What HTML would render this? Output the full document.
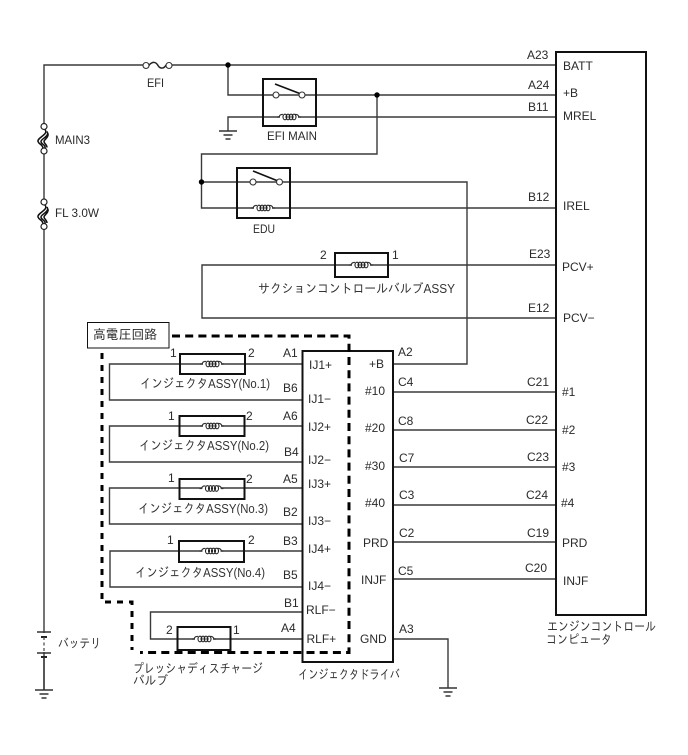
<!DOCTYPE html>
<html><head><meta charset="utf-8"><style>
html,body{margin:0;padding:0;background:#fff}
svg{display:block}
text{font-family:"Liberation Sans","IPAGothic","Noto Sans CJK JP",sans-serif;font-size:12px;fill:#2a2a2a}
text.k{font-size:13px;font-family:"Liberation Sans","IPAGothic","WenQuanYi Zen Hei",sans-serif;fill:#333}
.w{fill:none;stroke:#3a3a3a;stroke-width:1.4}
.b{fill:none;stroke:#111;stroke-width:2}
.d{fill:none;stroke:#000;stroke-width:3}
</style></head><body>
<svg width="688" height="755" viewBox="0 0 688 755" xmlns="http://www.w3.org/2000/svg">
<defs>
<g id="coil"><rect x="-9" y="-3" width="18" height="6" fill="#fff"/><path d="M-12,0 H-10 Q-9,-3 -6,-2.5 M6,-2.5 Q9,-3 10,0 H12" fill="none" stroke="#333" stroke-width="1.2"/><ellipse cx="-4" cy="0" rx="2" ry="2.8" fill="none" stroke="#222" stroke-width="1.1"/><ellipse cx="-1" cy="0" rx="2" ry="2.8" fill="none" stroke="#222" stroke-width="1.1"/><ellipse cx="2" cy="0" rx="2" ry="2.8" fill="none" stroke="#222" stroke-width="1.1"/><ellipse cx="5" cy="0" rx="2" ry="2.8" fill="none" stroke="#222" stroke-width="1.1"/></g>
<g id="gnd"><path d="M-9,0 H9 M-4.5,4 H4.5 M-2.5,8 H2.5" fill="none" stroke="#333" stroke-width="1.4"/></g>
<g id="vf"><rect x="-2" y="3" width="4" height="18" fill="#fff"/><path d="M1,3 C5,8 -7,11 -6,15 C-5,18 -1,18 -1,22 M3,5 C6,10 -3,12 -3,15 C-3,18 2,18 1,22 M4,7 C5,11 0,13 0,15 C0,17 3,18 3,21" fill="none" stroke="#111" stroke-width="1.5"/><circle cx="0" cy="0" r="3" fill="#fff" stroke="#222" stroke-width="1.2"/><circle cx="0" cy="24.5" r="3" fill="#fff" stroke="#222" stroke-width="1.2"/></g>
</defs>

<!-- wires -->
<path class="w" d="M44,690 V65 H556"/>
<path class="w" d="M228,65 V95 H556"/>
<path class="w" d="M228,131 V117 H556"/>
<path class="w" d="M377,95 V154 H201.5 V208 H556"/>
<path class="w" d="M201.5,182 H467 V364 H393"/>
<path class="w" d="M556,265 H202 V318 H556"/>
<path class="w" d="M302,364 H109.500 V400 H302"/>
<path class="w" d="M302,426 H109.500 V462 H302"/>
<path class="w" d="M302,488 H109.500 V524 H302"/>
<path class="w" d="M302,551 H110 V587 H302"/>
<path class="w" d="M302,612 H150.500 V639 H302"/>
<path class="w" d="M393,392 H556 M393,430 H556 M393,467 H556 M393,505 H556 M393,542 H556 M393,579 H556"/>
<path class="w" d="M393,639 H448 V688"/>

<circle cx="228" cy="65" r="2.7" fill="#000"/>
<circle cx="377" cy="95" r="2.7" fill="#000"/>
<circle cx="201.500" cy="182" r="2.7" fill="#000"/>

<!-- battery gap -->
<rect x="40" y="633" width="8" height="19" fill="#fff"/>
<path d="M37,632 H51 M37,653 H51" fill="none" stroke="#333" stroke-width="1.4"/>
<path d="M41,637 H47 M41,657 H47" fill="none" stroke="#222" stroke-width="2"/>
<path d="M44,637 V652" fill="none" stroke="#444" stroke-width="1.2" stroke-dasharray="3,2.500"/>
<path d="M44,657 V690" fill="none" stroke="#333" stroke-width="1.4"/>
<use href="#gnd" x="44" y="690"/>
<use href="#gnd" x="228" y="131"/>
<use href="#gnd" x="448" y="688"/>

<!-- fuses -->
<rect x="150" y="62" width="16" height="7" fill="#fff"/>
<path d="M149,65 C153,61 156,62 158,65.500 C160,69 164,69 166,65" fill="none" stroke="#222" stroke-width="1.500"/>
<circle cx="146" cy="65.500" r="3" fill="#fff" stroke="#333" stroke-width="1.1"/>
<circle cx="169" cy="65.500" r="3" fill="#fff" stroke="#333" stroke-width="1.1"/>
<use href="#vf" x="44" y="126.500"/>
<use href="#vf" x="44" y="202"/>

<!-- relays -->
<rect x="263" y="79" width="53" height="47" fill="none" stroke="#111" stroke-width="2"/>
<path d="M275,84 L301,94" stroke="#111" stroke-width="1.6" fill="none"/>
<circle cx="276" cy="95" r="3" fill="#fff" stroke="#333" stroke-width="1.1"/>
<circle cx="302" cy="95" r="3" fill="#fff" stroke="#333" stroke-width="1.1"/>
<use href="#coil" x="289" y="117"/>

<rect x="237" y="168" width="53" height="50" fill="none" stroke="#111" stroke-width="2"/>
<path d="M253,171 L278,181" stroke="#111" stroke-width="1.6" fill="none"/>
<circle cx="253" cy="182" r="3" fill="#fff" stroke="#333" stroke-width="1.1"/>
<circle cx="279.500" cy="182" r="3" fill="#fff" stroke="#333" stroke-width="1.1"/>
<use href="#coil" x="263" y="208"/>

<!-- solenoid boxes -->
<rect x="335" y="253" width="53" height="24" class="b"/><use href="#coil" x="361" y="265"/>
<rect x="180" y="354" width="65" height="20" class="b"/><use href="#coil" x="212" y="364"/>
<rect x="179.500" y="416" width="65" height="20" class="b"/><use href="#coil" x="212" y="426"/>
<rect x="179.500" y="479" width="65" height="20" class="b"/><use href="#coil" x="211.500" y="488.500"/>
<rect x="179" y="541" width="65" height="21" class="b"/><use href="#coil" x="211.500" y="551"/>
<rect x="177.500" y="627" width="53" height="23" class="b"/><use href="#coil" x="204" y="639"/>

<!-- blocks -->
<rect x="556" y="52" width="90" height="563" class="b"/>
<rect x="302.500" y="351" width="90.500" height="311" class="b"/>

<!-- dashed -->
<path class="d" d="M172,336 H349 V652.500 H140" stroke-dasharray="8,5.200"/>
<path class="d" d="M102,353 V602 H132 V650" stroke-dasharray="6,6"/>

<rect x="87.500" y="322.500" width="81.500" height="25.500" fill="#fff" stroke="#111" stroke-width="1"/>
<text x="93" y="339" style="font-size:13px" textLength="64" lengthAdjust="spacingAndGlyphs">高電圧回路</text>

<!-- labels -->
<text x="147" y="87" textLength="17" lengthAdjust="spacingAndGlyphs">EFI</text>
<text x="267" y="140" textLength="50" lengthAdjust="spacingAndGlyphs">EFI MAIN</text>
<text x="253" y="233" textLength="22" lengthAdjust="spacingAndGlyphs">EDU</text>
<text x="55" y="144" textLength="35" lengthAdjust="spacingAndGlyphs">MAIN3</text>
<text x="55" y="217" textLength="44" lengthAdjust="spacingAndGlyphs">FL 3.0W</text>
<text class="k" x="58" y="648" textLength="43" lengthAdjust="spacingAndGlyphs">バッテリ</text>

<text x="320" y="259">2</text>
<text x="392" y="259">1</text>
<text class="k" x="258" y="293" textLength="197" lengthAdjust="spacingAndGlyphs">サクションコントロールバルブASSY</text>

<text x="170" y="357">1</text><text x="248" y="357">2</text>
<text x="168" y="420">1</text><text x="246" y="420">2</text>
<text x="168" y="482">1</text><text x="246" y="483">2</text>
<text x="167" y="544">1</text><text x="248" y="544">2</text>
<text x="166" y="634">2</text><text x="233" y="634">1</text>

<text class="k" x="140" y="388" textLength="130" lengthAdjust="spacingAndGlyphs">インジェクタASSY(No.1)</text>
<text class="k" x="139" y="450" textLength="130" lengthAdjust="spacingAndGlyphs">インジェクタASSY(No.2)</text>
<text class="k" x="138" y="513" textLength="130" lengthAdjust="spacingAndGlyphs">インジェクタASSY(No.3)</text>
<text class="k" x="135" y="577" textLength="130" lengthAdjust="spacingAndGlyphs">インジェクタASSY(No.4)</text>
<text class="k" x="133" y="673" textLength="130" lengthAdjust="spacingAndGlyphs">プレッシャディスチャージ</text>
<text class="k" x="133" y="685" textLength="35" lengthAdjust="spacingAndGlyphs">バルブ</text>
<text class="k" x="298" y="679" textLength="102" lengthAdjust="spacingAndGlyphs">インジェクタドライバ</text>
<text class="k" x="547" y="631" textLength="109" lengthAdjust="spacingAndGlyphs">エンジンコントロール</text>
<text class="k" x="546" y="644" textLength="66" lengthAdjust="spacingAndGlyphs">コンピュータ</text>

<text x="283" y="357">A1</text><text x="283" y="392">B6</text>
<text x="283" y="420">A6</text><text x="284" y="456">B4</text>
<text x="283" y="483">A5</text><text x="283" y="516">B2</text>
<text x="283" y="545">B3</text><text x="283" y="579">B5</text>
<text x="284" y="607">B1</text><text x="281" y="632">A4</text>

<text x="309" y="369">IJ1+</text><text x="308" y="403">IJ1−</text>
<text x="308" y="431">IJ2+</text><text x="308" y="464">IJ2−</text>
<text x="308" y="488">IJ3+</text><text x="308" y="525">IJ3−</text>
<text x="308" y="553">IJ4+</text><text x="308" y="590">IJ4−</text>
<text x="306" y="614">RLF−</text><text x="306.500" y="643">RLF+</text>

<text x="369" y="368">+B</text>
<text x="365" y="395">#10</text>
<text x="365" y="432">#20</text>
<text x="365" y="470">#30</text>
<text x="365" y="507">#40</text>
<text x="363" y="547">PRD</text>
<text x="361" y="584">INJF</text>
<text x="360" y="643">GND</text>

<text x="398" y="356">A2</text>
<text x="398" y="386">C4</text>
<text x="398" y="425">C8</text>
<text x="399" y="462">C7</text>
<text x="399" y="499">C3</text>
<text x="399" y="537">C2</text>
<text x="398" y="575">C5</text>
<text x="399" y="633">A3</text>

<text x="527" y="59">A23</text>
<text x="528" y="89">A24</text>
<text x="528" y="111">B11</text>
<text x="528" y="201">B12</text>
<text x="529" y="258">E23</text>
<text x="528" y="312">E12</text>
<text x="527" y="386">C21</text>
<text x="526" y="424">C22</text>
<text x="527" y="461">C23</text>
<text x="526" y="499">C24</text>
<text x="527" y="537">C19</text>
<text x="525" y="572">C20</text>

<text x="563" y="70">BATT</text>
<text x="563" y="97">+B</text>
<text x="563" y="120">MREL</text>
<text x="563" y="210">IREL</text>
<text x="562" y="271">PCV+</text>
<text x="563" y="322">PCV−</text>
<text x="562" y="396">#1</text>
<text x="562" y="434">#2</text>
<text x="562" y="471">#3</text>
<text x="561" y="507">#4</text>
<text x="562" y="547">PRD</text>
<text x="563" y="585">INJF</text>
</svg>
</body></html>
